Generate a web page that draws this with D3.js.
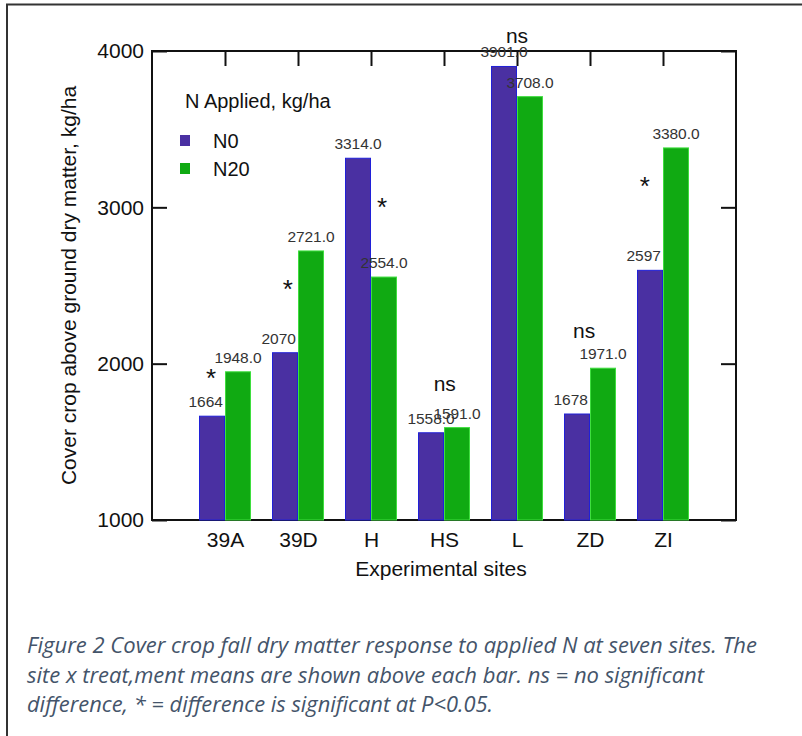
<!DOCTYPE html>
<html>
<head>
<meta charset="utf-8">
<script src="https://cdn.jsdelivr.net/npm/d3@7"></script>
<style>
    body { margin: 0; background: #fff; }
    svg { display: block; font-family: "Liberation Sans", Arial, sans-serif; }
</style>
</head>
<body>
<div id="chart"></div>
<script>
// chart values
const sites = ['39A', '39D', 'H', 'HS', 'L', 'ZD', 'ZI'];
const series = ['N0', 'N20'];
const n0Values = [1664, 2070, 3314, 1558, 3901, 1678, 2597];
const n20Values = [1948, 2721, 2554, 1591, 3708, 1971, 3380];
const n0Labels = ['1664', '2070', '3314.0', '1558.0', '3901.0', '1678', '2597'];
const n20Labels = ['1948.0', '2721.0', '2554.0', '1591.0', '3708.0', '1971.0', '3380.0'];
const sigMarks = ['*', '*', '*', 'ns', 'ns', 'ns', '*'];
const sigLevel = [1851, 2420, 2945, 1825, 4051, 2164, 3079];   // kg/ha where the mark sits
const sigShift = [-0.19, -0.14, 0.15, 0.01, 0, -0.08, -0.25];  // in site steps
const yTicks = [1000, 2000, 3000, 4000];
const captionLines = [
    'Figure 2 Cover crop fall dry matter response to applied N at seven sites. The',
    'site x treat,ment means are shown above each bar. ns = no significant',
    'difference, * = difference is significant at P<0.05.'
];
const captionWidths = [730, 677, 466];

const colors = { N0: '#4a30a2', N20: '#10aa12' };
const strokes = { N0: '#2020d8', N20: '#3ede3e' };

const W = 802, H = 736;
const plot = { left: 152, top: 51, right: 736, bottom: 520 };

const svg = d3.select('#chart')
    .append('svg')
    .attr('width', W)
    .attr('height', H);

// outer page frame
svg.append('rect')
    .attr('x', 7)
    .attr('y', 4.5)
    .attr('width', W + 10)
    .attr('height', H + 10)
    .attr('fill', 'none')
    .attr('stroke', '#333')
    .attr('stroke-width', 2);

// scales
const xScale = d3.scalePoint()
    .domain(sites)
    .range([plot.left, plot.right])
    .padding(1);

const step = xScale.step();
const barW = 26;

const xSub = d3.scaleBand()
    .domain(series)
    .range([-barW, barW]);

const yScale = d3.scaleLinear()
    .domain([1000, 4000])
    .range([plot.bottom, plot.top]);

// plot frame
svg.append('rect')
    .attr('x', plot.left)
    .attr('y', plot.top)
    .attr('width', plot.right - plot.left)
    .attr('height', plot.bottom - plot.top)
    .attr('fill', 'none')
    .attr('stroke', '#111')
    .attr('stroke-width', 2);

const styleAxis = g => {
    g.select('.domain').remove();
    g.selectAll('.tick line').attr('stroke', '#111').attr('stroke-width', 2);
    g.selectAll('.tick text').attr('fill', '#111').style('font-size', '21px');
};

svg.append('g')
    .attr('transform', `translate(${plot.left}, 0)`)
    .call(d3.axisLeft(yScale).tickValues(yTicks).tickSize(-15).tickPadding(8).tickFormat(d3.format('d')))
    .call(styleAxis);

svg.append('g')
    .attr('transform', `translate(${plot.right}, 0)`)
    .call(d3.axisRight(yScale).tickValues(yTicks).tickSize(-15).tickFormat(''))
    .call(styleAxis);

svg.append('g')
    .attr('transform', `translate(0, ${plot.top})`)
    .call(d3.axisTop(xScale).tickSize(-15).tickFormat(''))
    .call(styleAxis);

svg.append('g')
    .attr('transform', `translate(0, ${plot.bottom})`)
    .call(d3.axisBottom(xScale).tickSize(0).tickPadding(12))
    .call(styleAxis);

// axis titles
svg.append('text')
    .attr('x', (plot.left + plot.right) / 2 - 3)
    .attr('y', 576)
    .attr('text-anchor', 'middle')
    .style('font-size', '21px')
    .attr('fill', '#111')
    .text('Experimental sites');

svg.append('text')
    .attr('transform', `translate(76, ${(plot.top + plot.bottom) / 2}) rotate(-90)`)
    .attr('text-anchor', 'middle')
    .style('font-size', '21px')
    .attr('fill', '#111')
    .text('Cover crop above ground dry matter, kg/ha');

// bars
const rows = sites.map((s, i) => ({
    site: s,
    values: [
        { key: 'N0', value: n0Values[i], label: n0Labels[i] },
        { key: 'N20', value: n20Values[i], label: n20Labels[i] }
    ]
}));

const groups = svg.append('g')
    .selectAll('g')
    .data(rows)
    .join('g')
    .attr('transform', d => `translate(${xScale(d.site)}, 0)`);

groups.selectAll('rect')
    .data(d => d.values)
    .join('rect')
    .attr('x', d => xSub(d.key) + 0.5)
    .attr('y', d => yScale(d.value))
    .attr('width', xSub.bandwidth() - 1)
    .attr('height', d => yScale(1000) - yScale(d.value))
    .attr('fill', d => colors[d.key])
    .attr('stroke', d => strokes[d.key])
    .attr('stroke-width', 1);

// value labels (integers keep the place of the ".0" version)
const fullW = 47;
groups.selectAll('text.val')
    .data(d => d.values)
    .join('text')
    .attr('class', 'val')
    .attr('x', d => xSub(d.key) + xSub.bandwidth() / 2 - fullW / 2)
    .attr('y', d => yScale(d.value) - 9)
    .attr('text-anchor', 'start')
    .attr('textLength', d => d.label.indexOf('.') >= 0 ? fullW : null)
    .style('font-size', '15.5px')
    .attr('fill', '#333')
    .text(d => d.label);

// significance marks
svg.append('g')
    .selectAll('text')
    .data(sites)
    .join('text')
    .attr('x', (d, i) => xScale(d) + sigShift[i] * step)
    .attr('y', (d, i) => yScale(sigLevel[i]))
    .attr('text-anchor', 'middle')
    .style('font-size', (d, i) => sigMarks[i] === '*' ? '26px' : '21px')
    .attr('fill', '#111')
    .text((d, i) => sigMarks[i]);

// legend
const legend = svg.append('g');

legend.append('text')
    .attr('x', 185)
    .attr('y', 108)
    .style('font-size', '20px')
    .attr('fill', '#111')
    .text('N Applied, kg/ha');

const item = legend.selectAll('g')
    .data(series)
    .join('g')
    .attr('transform', (d, i) => `translate(180, ${135 + i * 28})`);

item.append('rect')
    .attr('width', 10)
    .attr('height', 11)
    .attr('fill', d => colors[d]);

item.append('text')
    .attr('x', 33)
    .attr('y', 13)
    .style('font-size', '20px')
    .attr('fill', '#111')
    .text(d => d);

// caption
svg.append('g')
    .selectAll('text')
    .data(captionLines)
    .join('text')
    .attr('x', 27)
    .attr('y', (d, i) => 653 + i * 29.5)
    .attr('textLength', (d, i) => captionWidths[i])
    .attr('lengthAdjust', 'spacingAndGlyphs')
    .style('font-family', '"Open Sans", sans-serif')
    .style('font-style', 'italic')
    .style('font-size', '21px')
    .attr('fill', '#44546a')
    .text(d => d);
</script>
</body>
</html>
